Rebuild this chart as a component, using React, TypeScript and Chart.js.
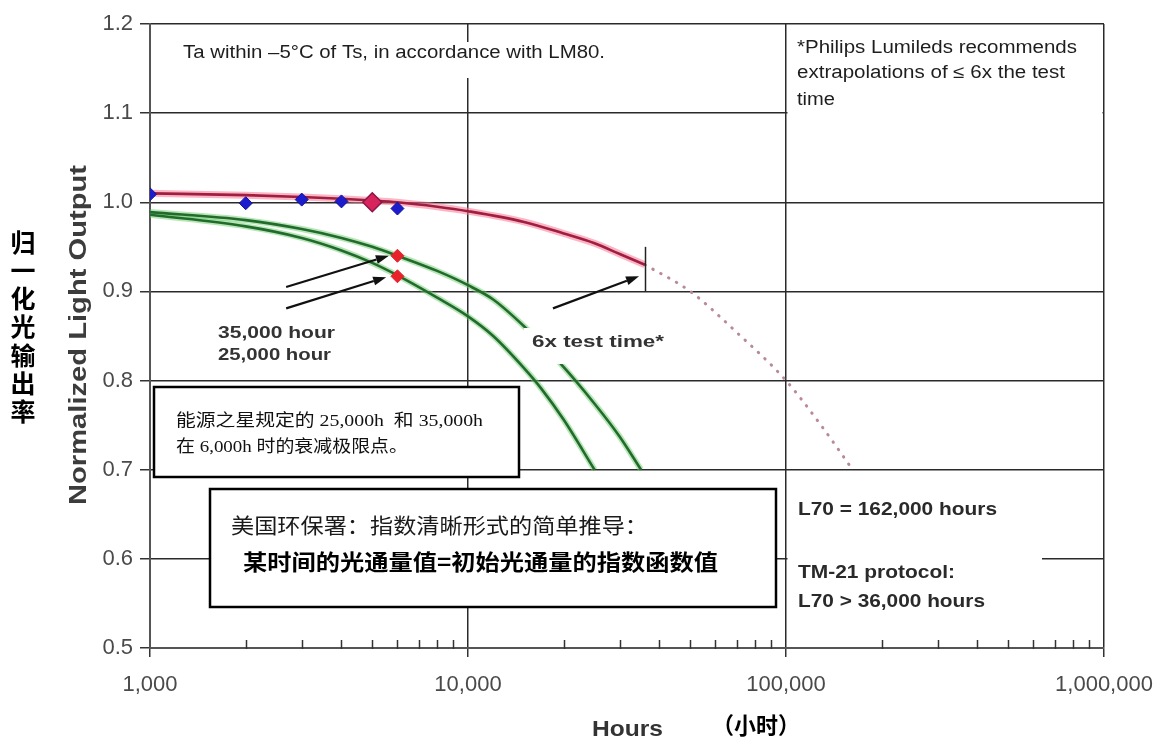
import React, { useEffect, useRef } from 'react';
import { Chart, registerables } from 'chart.js';

Chart.register(...registerables);

// ---------------- data ----------------
const X_TICKS = [1000, 10000, 100000, 1000000];
const Y_MIN = 0.5;
const Y_MAX = 1.2;
const Y_STEP = 0.1;

// LM-80 measured points (blue diamonds)
const MEASURED_HOURS = [1000, 2000, 3000, 4000, 5000, 6000];
const MEASURED_VALUES = [1.009, 0.999, 1.003, 1.001, 1.0, 0.993];

// fitted curve up to 6x test time (red solid)
const FIT_HOURS = [1000, 2000, 3000, 4000, 5000, 6000, 8000, 10000, 15000, 20000, 25000, 30000, 36000];
const FIT_VALUES = [1.01, 1.008, 1.006, 1.004, 1.002, 1.0, 0.995, 0.99, 0.978, 0.965, 0.954, 0.942, 0.93];

// extrapolation beyond 6x test time (dotted)
const EXTRAP_HOURS = [36000, 50000, 70000, 100000, 130000, 162000];
const EXTRAP_VALUES = [0.93, 0.9, 0.854, 0.8, 0.748, 0.7];

// ENERGY STAR 35,000 h requirement curve (upper green)
const G35_HOURS = [1000, 2000, 3000, 4000, 5000, 6000, 8000, 10000, 12000, 15000, 19200, 25000, 30000, 35000];
const G35_VALUES = [0.989, 0.98, 0.97, 0.96, 0.95, 0.94, 0.923, 0.907, 0.891, 0.861, 0.822, 0.774, 0.737, 0.7];

// ENERGY STAR 25,000 h requirement curve (lower green)
const G25_HOURS = [1000, 2000, 3000, 4000, 5000, 6000, 8000, 10000, 12000, 15000, 17000, 20000, 25000];
const G25_VALUES = [0.986, 0.973, 0.96, 0.946, 0.932, 0.918, 0.893, 0.872, 0.85, 0.814, 0.791, 0.756, 0.7];

// limit points at 6,000 h (red diamonds)
const LIMIT_HOURS = [6000, 6000];
const LIMIT_VALUES = [0.94, 0.917];

// highlighted point (big red diamond)
const MARK_HOURS = [5000];
const MARK_VALUES = [1.0];

// 6x test time marker (vertical tick)
const SIXX_HOURS = 36000;
const SIXX_RANGE = [0.9, 0.95];

// arrows [fromHours, fromValue, toHours, toValue]
const ARROWS = [
  [2680, 0.905, 5640, 0.94],
  [2680, 0.881, 5530, 0.916],
  [18500, 0.881, 34500, 0.917],
];

const MINOR_MULTS = [2, 3, 4, 5, 6, 7, 8, 9];
const MINOR_DECADES = [1000, 10000, 100000];

const SANS = '"Liberation Sans", Arial, sans-serif';
const CJK = '"Noto Sans CJK SC", sans-serif';
const SERIF_CJK = '"Liberation Serif", "Noto Sans CJK SC", serif';

// text annotations: [text, left, centerY, width, font, color]
const NOTES: [string, number, number, number, string, string][] = [
  ['Ta within \u20135\u00b0C of Ts, in accordance with LM80.', 183, 53, 422, `18px ${SANS}`, '#1e1e1e'],
  ['*Philips Lumileds recommends', 797, 48, 280, `18px ${SANS}`, '#1e1e1e'],
  ['extrapolations of \u2264 6x the test', 797, 73, 268, `18px ${SANS}`, '#1e1e1e'],
  ['time', 797, 100, 38, `18px ${SANS}`, '#1e1e1e'],
  ['35,000 hour', 218, 333, 117, `bold 17px ${SANS}`, '#333'],
  ['25,000 hour', 218, 355, 113, `bold 17px ${SANS}`, '#333'],
  ['6x test time*', 532, 342, 132, `bold 17px ${SANS}`, '#333'],
  ['L70 = 162,000 hours', 798, 510, 199, `bold 19px ${SANS}`, '#2a2a2a'],
  ['TM-21 protocol:', 798, 573, 157, `bold 19px ${SANS}`, '#2a2a2a'],
  ['L70 > 36,000 hours', 798, 602, 187, `bold 19px ${SANS}`, '#2a2a2a'],
  ['能源之星规定的 25,000h  和 35,000h', 176, 422, 307, `17px ${SERIF_CJK}`, '#111'],
  ['在 6,000h 时的衰减极限点。', 176, 448, 232, `17px ${SERIF_CJK}`, '#111'],
  ['美国环保署：指数清晰形式的简单推导：', 231, 525, 417, `21px ${CJK}`, '#1a1a1a'],
  ['某时间的光通量值=初始光通量的指数函数值', 243, 562, 475, `bold 22px ${CJK}`, '#000'],
  ['Hours', 592, 730, 71, `bold 22px ${SANS}`, '#333'],
  ['（小时）', 712, 725, 88, `bold 23px ${CJK}`, '#000'],
];

const Y_TITLE = 'Normalized Light Output';
const Y_TITLE_CN = ['归', '一', '化', '光', '输', '出', '率'];

const pts = (xs: number[], ys: number[]) => xs.map((x, i) => ({ x, y: ys[i] }));

function fitText(ctx: CanvasRenderingContext2D, text: string, x: number, y: number, w: number, font: string, color: string) {
  ctx.save();
  ctx.font = font;
  ctx.fillStyle = color;
  ctx.textBaseline = 'middle';
  ctx.textAlign = 'left';
  const m = ctx.measureText(text).width;
  ctx.translate(x, y);
  ctx.scale(w / m, 1);
  ctx.fillText(text, 0, 0);
  ctx.restore();
}

function arrow(ctx: CanvasRenderingContext2D, x1: number, y1: number, x2: number, y2: number) {
  const a = Math.atan2(y2 - y1, x2 - x1);
  const hl = 13, hw = 4.5;
  const bx = x2 - hl * Math.cos(a), by = y2 - hl * Math.sin(a);
  ctx.beginPath();
  ctx.moveTo(x1, y1);
  ctx.lineTo(bx, by);
  ctx.stroke();
  ctx.beginPath();
  ctx.moveTo(x2, y2);
  ctx.lineTo(bx + hw * Math.sin(a), by - hw * Math.cos(a));
  ctx.lineTo(bx - hw * Math.sin(a), by + hw * Math.cos(a));
  ctx.closePath();
  ctx.fill();
}

const overlay = {
  id: 'overlay',
  afterDatasetsDraw(chart: any) {
    const { ctx, chartArea: ca, scales } = chart;
    const px = (h: number) => scales.x.getPixelForValue(h);
    const py = (v: number) => scales.y.getPixelForValue(v);
    ctx.save();

    // white masks behind text blocks
    ctx.fillStyle = '#fff';
    ctx.fillRect(178, 42, 434, 36); // Ta note
    ctx.fillRect(px(100000) + 1.5, ca.top + 1.5, ca.right - px(100000) - 3, py(1.1) - ca.top + 1); // Philips note
    ctx.fillRect(px(100000) + 1.5, 553, 1042 - px(100000) - 1.5, 62); // TM-21
    ctx.fillRect(524, 328, 144, 36); // 6x test time

    // framed boxes
    ctx.strokeStyle = '#000';
    ctx.lineWidth = 2.5;
    ctx.fillRect(154, 387, 365, 90);
    ctx.strokeRect(154, 387, 365, 90);
    ctx.fillRect(210, 489, 566, 118);
    ctx.strokeRect(210, 489, 566, 118);

    // minor ticks on the x axis
    ctx.strokeStyle = '#333';
    ctx.lineWidth = 1.5;
    for (const d of MINOR_DECADES) {
      for (const m of MINOR_MULTS) {
        const x = Math.round(px(m * d)) + 0.5;
        ctx.beginPath();
        ctx.moveTo(x, ca.bottom - 8);
        ctx.lineTo(x, ca.bottom + 1);
        ctx.stroke();
      }
    }

    // 6x test time marker
    ctx.strokeStyle = '#222';
    ctx.lineWidth = 1.5;
    ctx.beginPath();
    ctx.moveTo(Math.round(px(SIXX_HOURS)) + 0.5, py(SIXX_RANGE[0]));
    ctx.lineTo(Math.round(px(SIXX_HOURS)) + 0.5, py(SIXX_RANGE[1]));
    ctx.stroke();

    // arrows
    ctx.strokeStyle = '#111';
    ctx.fillStyle = '#111';
    ctx.lineWidth = 2.2;
    for (const [h1, v1, h2, v2] of ARROWS) arrow(ctx, px(h1), py(v1), px(h2), py(v2));

    // texts
    for (const [t, x, y, w, f, c] of NOTES) fitText(ctx, t, x, y, w, f, c);

    // y title (rotated)
    ctx.save();
    ctx.font = `bold 23px ${SANS}`;
    ctx.fillStyle = '#3c3c3c';
    ctx.textAlign = 'center';
    ctx.textBaseline = 'middle';
    const m = ctx.measureText(Y_TITLE).width;
    ctx.translate(80, 335);
    ctx.rotate(-Math.PI / 2);
    ctx.scale(340 / m, 1);
    ctx.fillText(Y_TITLE, 0, 0);
    ctx.restore();

    // vertical Chinese title
    ctx.font = `bold 25px ${CJK}`;
    ctx.fillStyle = '#000';
    ctx.textAlign = 'center';
    ctx.textBaseline = 'middle';
    Y_TITLE_CN.forEach((ch, i) => ctx.fillText(ch, 23, 242 + i * 28.3));

    ctx.restore();
  },
};

export default function App() {
  const ref = useRef<HTMLCanvasElement | null>(null);

  useEffect(() => {
    const canvas = ref.current;
    if (!canvas) return;
    const lineBase = { showLine: true, pointRadius: 0, pointHoverRadius: 0, cubicInterpolationMode: 'monotone' as const, fill: false };
    const chart = new Chart(canvas, {
      type: 'scatter',
      data: {
        datasets: [
          { label: 'mark', data: pts(MARK_HOURS, MARK_VALUES), pointStyle: 'rectRot', pointRadius: 9.5, backgroundColor: '#d8245c', borderColor: '#8c1448', borderWidth: 1.5, order: 0 },
          { label: 'limits', data: pts(LIMIT_HOURS, LIMIT_VALUES), pointStyle: 'rectRot', pointRadius: 6.5, backgroundColor: '#e8222a', borderColor: '#e8222a', borderWidth: 1, order: 0 },
          { label: 'measured', data: pts(MEASURED_HOURS, MEASURED_VALUES), pointStyle: 'rectRot', pointRadius: 6.5, backgroundColor: '#1c1ccc', borderColor: '#12129a', borderWidth: 1, order: 1 },
          { label: 'fit', data: pts(FIT_HOURS, FIT_VALUES), ...lineBase, borderColor: '#a01e40', borderWidth: 2.6, order: 3 },
          { label: 'fit halo', data: pts(FIT_HOURS, FIT_VALUES), ...lineBase, borderColor: 'rgba(250,120,150,0.55)', borderWidth: 7, order: 4 },
          { label: 'extrap', data: pts(EXTRAP_HOURS, EXTRAP_VALUES), ...lineBase, borderColor: '#b88a96', borderWidth: 3, borderDash: [0.5, 8.5], borderCapStyle: 'round', order: 3 },
          { label: 'g35', data: pts(G35_HOURS, G35_VALUES), ...lineBase, borderColor: '#226b2c', borderWidth: 2.6, order: 5 },
          { label: 'g35 halo', data: pts(G35_HOURS, G35_VALUES), ...lineBase, borderColor: 'rgba(110,205,110,0.5)', borderWidth: 6, order: 6 },
          { label: 'g25', data: pts(G25_HOURS, G25_VALUES), ...lineBase, borderColor: '#226b2c', borderWidth: 2.6, order: 5 },
          { label: 'g25 halo', data: pts(G25_HOURS, G25_VALUES), ...lineBase, borderColor: 'rgba(110,205,110,0.5)', borderWidth: 6, order: 6 },
        ],
      },
      options: {
        responsive: false,
        animation: false,
        events: [],
        layout: { padding: { left: 0, right: 56, top: 24, bottom: 0 } },
        plugins: { legend: { display: false }, tooltip: { enabled: false }, title: { display: false } },
        scales: {
          x: {
            type: 'logarithmic',
            min: 1000,
            max: 1000000,
            afterBuildTicks: (s: any) => { s.ticks = X_TICKS.map((v) => ({ value: v, major: true })); },
            afterFit: (s: any) => { s.height = 96; s.paddingLeft = 0; s.paddingRight = 0; },
            grid: { color: '#2a2a2a', lineWidth: 1.5, drawTicks: true, tickLength: 9, tickColor: '#333' },
            border: { display: true, color: '#555', width: 2 },
            ticks: {
              autoSkip: false,
              maxRotation: 0,
              padding: 15,
              color: '#4a4a4a',
              font: { family: SANS, size: 22 },
              callback: (v: any) => Number(v).toLocaleString('en-US'),
            },
          },
          y: {
            min: Y_MIN,
            max: Y_MAX,
            afterFit: (s: any) => { s.width = 150; s.paddingTop = 0; s.paddingBottom = 0; },
            grid: { color: '#2a2a2a', lineWidth: 1.5, drawTicks: true, tickLength: 10, tickColor: '#333' },
            border: { display: true, color: '#555', width: 2 },
            ticks: {
              stepSize: Y_STEP,
              padding: 7,
              color: '#4a4a4a',
              font: { family: SANS, size: 22 },
              callback: (v: any) => Number(v).toFixed(1),
            },
          },
        },
      },
      plugins: [overlay],
    } as any);
    return () => chart.destroy();
  }, []);

  return (
    <div style={{ position: 'fixed', left: 0, top: 0, width: 1160, height: 744, background: '#fff' }}>
      <canvas ref={ref} width={1160} height={744} style={{ width: 1160, height: 744, display: 'block' }} />
    </div>
  );
}
